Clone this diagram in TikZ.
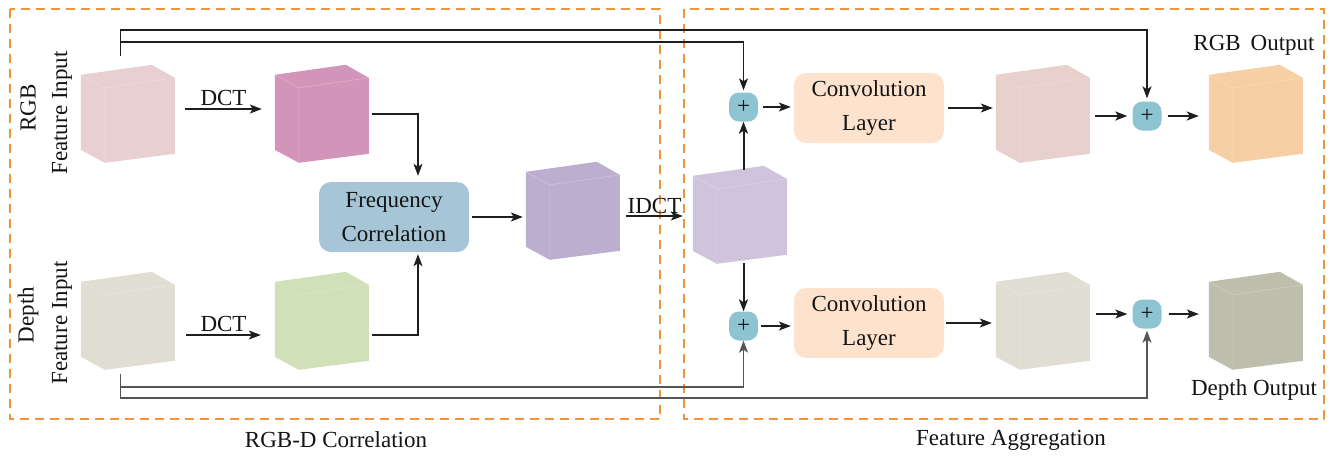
\documentclass[tikz,border=0pt]{standalone}
\usepackage{fontspec}
\setmainfont{Liberation Serif}
\usetikzlibrary{arrows.meta,calc}
\definecolor{dashor}{RGB}{240,148,58}
\definecolor{txt}{RGB}{20,20,20}
\definecolor{linedark}{RGB}{30,30,30}
\definecolor{linegray}{RGB}{85,85,85}
\definecolor{freqblue}{RGB}{166,197,214}
\definecolor{convpeach}{RGB}{253,227,205}
\definecolor{plusblue}{RGB}{142,196,210}
\definecolor{cRGBin}{RGB}{232,208,210}
\definecolor{cRGBdct}{RGB}{211,148,185}
\definecolor{cDin}{RGB}{224,222,210}
\definecolor{cDdct}{RGB}{208,224,184}
\definecolor{cPurple}{RGB}{188,174,206}
\definecolor{cLav}{RGB}{208,196,220}
\definecolor{cRGBconv}{RGB}{232,208,204}
\definecolor{cRGBout}{RGB}{247,207,164}
\definecolor{cDconv}{RGB}{224,222,210}
\definecolor{cDout}{RGB}{190,190,172}
\tikzset{
  dashbox/.style={draw=dashor, line width=2pt, dash pattern=on 9pt off 6pt},
  cubenode/.style={rectangle, minimum width=94pt, minimum height=98pt, inner sep=0pt, draw=none},
  cubeedge/.style={draw=white, opacity=0.25, line width=0.6pt},
  procbox/.style={rounded corners=12pt, minimum width=150pt, minimum height=70pt, align=center, inner sep=0pt, text=txt, font=\fontsize{23}{34}\selectfont},
  plusnode/.style={fill=plusblue, rounded corners=10pt, minimum size=29pt, inner sep=0pt, text=txt},
  arr/.style={-{Stealth[length=12pt,width=9pt,inset=3pt]}, line width=1.1pt, draw=linedark},
  thickarr/.style={arr, line width=2pt},
  graylink/.style={draw=linegray},
  lbl/.style={text=txt},
}
\newcommand\cubeat[4]{%
  \node[cubenode] (#1) at (#2,#3) {};
  \fill[#4] ([shift={(0,10)}]#1.north west) -- ([shift={(71,0)}]#1.north west)
    -- ([shift={(94,13)}]#1.north west) -- ([shift={(94,89)}]#1.north west)
    -- ([shift={(24,98)}]#1.north west) -- ([shift={(0,85)}]#1.north west) -- cycle;
  \draw[cubeedge] ([shift={(0,10)}]#1.north west) -- ([shift={(24,23)}]#1.north west)
    -- ([shift={(94,13)}]#1.north west)
    ([shift={(24,23)}]#1.north west) -- ([shift={(24,98)}]#1.north west);
}
\begin{document}
\begin{tikzpicture}[x=1pt,y=-1pt,font=\fontsize{23}{27}\selectfont]
\useasboundingbox (0,0) rectangle (1335,456);

% dashed regions
\draw[dashbox] (10,9) rectangle (660,419);
\draw[dashbox] (684,9) rectangle (1324,419);
\node[lbl] (lblL) at (336,440) {RGB-D Correlation};
\node[lbl] (lblR) at (1011,440) {Feature Aggregation};

% rails
\coordinate (railT1) at (0,30);
\coordinate (railT2) at (0,42);
\coordinate (railB1) at (0,387);
\coordinate (railB2) at (0,398);

% cubes
\cubeat{rgbin}{128}{114}{cRGBin}
\cubeat{rgbdct}{322}{114}{cRGBdct}
\cubeat{depin}{128}{321}{cDin}
\cubeat{depdct}{322}{321}{cDdct}
\cubeat{purple}{573}{211}{cPurple}
\cubeat{lav}{740}{215}{cLav}
\cubeat{rgbc}{1043}{114}{cRGBconv}
\cubeat{rgbout}{1256}{114}{cRGBout}
\cubeat{depc}{1043}{321}{cDconv}
\cubeat{depout}{1256}{321}{cDout}

% side labels
\node[lbl, rotate=90] (tRGB) at (28,108) {RGB};
\node[lbl, rotate=90] (tFI1) at (62,113) {Feature Input};
\node[lbl, rotate=90] (tDep) at (28,315) {Depth};
\node[lbl, rotate=90] (tFI2) at (62,323) {Feature Input};
\node[lbl] (tRGBout) at (1254,45) {RGB\hspace{10pt}Output};
\node[lbl] (tDout) at (1254,390) {Depth Output};

% process boxes
\node[procbox, fill=freqblue] (freq) at (394,217) {Frequency\\Correlation};
\node[procbox, fill=convpeach] (convT) at (869,108) {Convolution\\Layer};
\node[procbox, fill=convpeach] (convB) at (869,323) {Convolution\\Layer};

% plus nodes
\node[plusnode] (plusT) at (743.5,107) {+};
\node[plusnode] (plusB) at (743.5,326) {+};
\node[plusnode] (plusTR) at (1147,116) {+};
\node[plusnode] (plusBR) at (1147,314) {+};

% DCT arrows
\draw[arr] ([shift={(10,-5)}]rgbin.east) -- node[lbl, above, inner sep=3pt] (dct1) {DCT} ([shift={(-13,-5)}]rgbdct.west);
\draw[arr] ([shift={(11,14)}]depin.east) -- node[lbl, above, inner sep=3pt] (dct2) {DCT} ([shift={(-14,14)}]depdct.west);

% to frequency correlation
\draw[arr] ([shift={(3,0)}]rgbdct.east) -| ([shift={(24,-6)}]freq.north);
\draw[arr] ([shift={(3,14)}]depdct.east) -| ([shift={(24,2)}]freq.south);

% freq -> purple -> lav
\draw[arr] ([shift={(3,0)}]freq.east) -- ($(freq.east -| purple.west)+(-3,0)$);
\draw[arr] ($(purple.east)+(6,5)$) -- node[lbl, above, inner sep=2pt] (idct) {IDCT} ($(purple.east -| lav.west)+(-10,5)$);

% lav -> plus
\draw[thickarr] ($(plusT.south |- lav.north)+(0,4)$) -- (plusT.south);
\draw[thickarr] ($(plusB.north |- lav.south)+(0,-1)$) -- (plusB.north);

% plus -> conv
\draw[arr] ($(plusT.east)+(5,0)$) -- ($(plusT.east -| convT.west)+(-3,0)$);
\draw[arr] ($(plusB.east)+(3,0)$) -- ($(plusB.east -| convB.west)+(-3,0)$);

% conv -> cubes
\draw[arr] ($(convT.east)+(4,0)$) -- ($(convT.east -| rgbc.west)+(-3,0)$);
\draw[arr] ($(convB.east)+(2,0)$) -- ($(convB.east -| depc.west)+(-4,0)$);

% cubes -> plus -> outputs
\draw[thickarr] ($(plusTR.west -| rgbc.east)+(5,0)$) -- ($(plusTR.west)+(-5,0)$);
\draw[thickarr] ($(plusTR.east)+(6,0)$) -- ($(plusTR.east -| rgbout.west)+(-10,0)$);
\draw[arr] ($(plusBR.west -| depc.east)+(6,0)$) -- ($(plusBR.west)+(-5,0)$);
\draw[arr] ($(plusBR.east)+(7,0)$) -- ($(plusBR.east -| depout.west)+(-10,0)$);

% skip connections (top)
\coordinate (skipT) at ($(rgbin.north west)+(40,-9)$);
\draw[arr] (skipT) -- (skipT |- railT1) -| ($(plusTR.north)+(0,-3)$);
\draw[arr] (skipT |- railT2) -| ($(plusT.north)+(0,-2)$);

% skip connections (bottom)
\coordinate (skipB) at ($(depin.south west)+(40,4)$);
\draw[arr, graylink] (skipB) -- (skipB |- railB2) -| ($(plusBR.south)+(0,2)$);
\draw[arr, graylink] (skipB |- railB1) -| (plusB.south);
\end{tikzpicture}
\end{document}
